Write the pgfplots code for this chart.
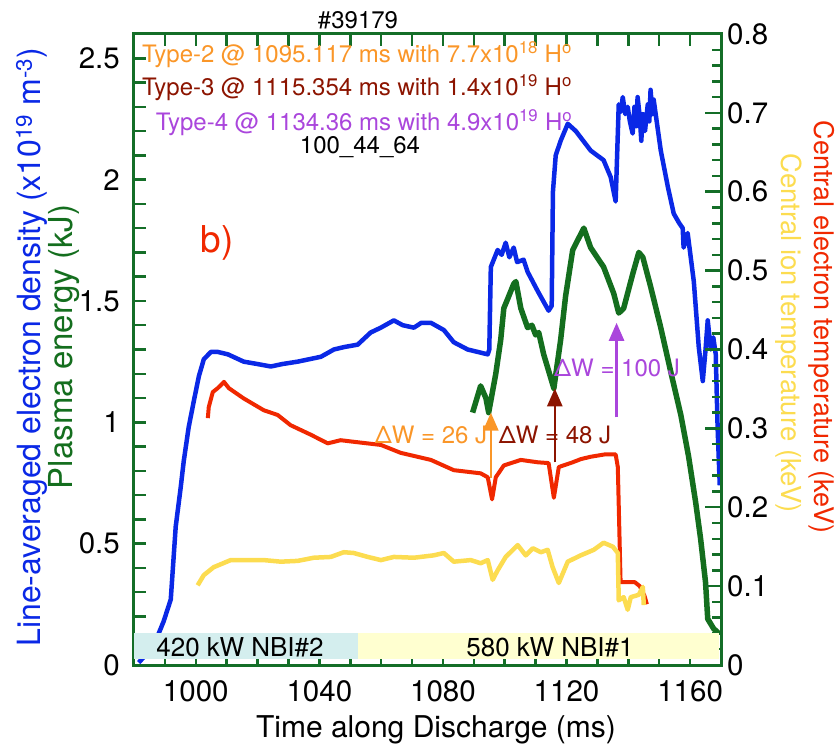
\documentclass[border=0pt]{standalone}
\usepackage{fontspec}
\setmainfont{TeX Gyre Heros}
\usepackage{pgfplots}
\pgfplotsset{compat=1.18}
\usetikzlibrary{arrows.meta}
\definecolor{fg}{RGB}{20,110,40}
\definecolor{cblue}{RGB}{10,40,230}
\definecolor{cgreen}{RGB}{20,110,30}
\definecolor{cred}{RGB}{240,40,0}
\definecolor{cyel}{RGB}{252,220,80}
\definecolor{corange}{RGB}{250,150,40}
\definecolor{cdred}{RGB}{140,20,0}
\definecolor{cpurple}{RGB}{170,70,220}
\definecolor{boxcyan}{RGB}{212,238,238}
\definecolor{boxyel}{RGB}{255,255,208}
\newcommand{\fs}[1]{\fontsize{#1}{#1}\selectfont}
\begin{document}
\begin{tikzpicture}
\path[use as bounding box] (-134pt,-87pt) rectangle (706pt,665pt);
\begin{axis}[
  at={(0pt,0pt)}, anchor=south west,
  scale only axis, width=587pt, height=631pt,
  xmin=980, xmax=1170, ymin=0, ymax=2.6,
  xtick={1000,1040,1080,1120,1160},
  minor xtick={980,990,...,1170},
  ytick={0,0.5,1,1.5,2,2.5},
  minor ytick={0,0.1,...,2.6},
  xtick pos=both, ytick pos=left,
  tick align=inside,
  major tick length=12pt, minor tick length=12pt,
  every tick/.style={fg, line width=2.5pt},
  every minor tick/.style={fg, line width=2.5pt},
  axis line style={fg, line width=3pt},
  /pgf/number format/assume math mode=true,
  /pgf/number format/1000 sep={},
  tick label style={font=\fs{29.5}, text=black},
  yticklabel style={inner sep=0pt, xshift=-14pt},
  xticklabel style={inner sep=0pt, yshift=-15pt},
]
\addplot[cblue, line width=4.5pt, line join=round] coordinates {
(981.5,0.01) (986,0.07) (988.0,0.13) (989.6,0.18) (991.9,0.27) (993.5,0.57) (995.1,0.73) (996.1,0.84) (997.7,0.98) (999.4,1.09) (1001.0,1.19) (1002.6,1.26) (1004.9,1.29) (1007.1,1.29) (1010.4,1.28) (1015.5,1.25) (1020,1.24) (1024.3,1.23) (1028,1.24) (1033.0,1.25) (1040.5,1.27) (1044.7,1.30) (1048,1.31) (1052.4,1.32) (1056.6,1.37) (1059.9,1.39) (1064.1,1.42) (1067,1.40) (1070.6,1.39) (1073,1.41) (1076.1,1.41) (1080.3,1.38) (1083.5,1.33) (1088.0,1.30) (1094.5,1.28) (1095.0,1.30) (1095.5,1.64) (1097.7,1.71) (1099.0,1.69) (1100.3,1.74) (1101.5,1.68) (1102.9,1.72) (1104.0,1.66) (1106.1,1.67) (1107.4,1.62) (1110.7,1.54) (1114.2,1.46) (1115.2,1.48) (1115.6,1.95) (1116.5,2.10) (1118.1,2.16) (1120.4,2.23) (1123.0,2.20) (1127.8,2.12) (1132.0,2.08) (1134.3,2.01) (1135.9,1.91) (1136.9,2.31) (1137.6,2.28) (1138.2,2.34) (1139.0,2.27) (1139.8,2.30) (1140.5,2.24) (1141.4,2.19) (1142.0,2.30) (1142.6,2.22) (1143.0,2.34) (1143.7,2.26) (1144.2,2.16) (1144.7,2.27) (1145.4,2.20) (1146.3,2.31) (1146.8,2.24) (1147.2,2.37) (1147.8,2.27) (1148.2,2.33) (1150.5,2.12) (1152.8,1.97) (1154.7,1.86) (1156.5,1.82) (1157.6,1.80) (1157.9,1.72) (1159.2,1.78) (1161.2,1.58) (1162.8,1.31) (1164.1,1.17) (1165.0,1.30) (1165.7,1.42) (1166.7,1.30) (1167.5,1.35) (1168.3,1.28) (1168.9,0.98) (1169.6,0.74)
};
\addplot[cgreen, line width=5.5pt, line join=round] coordinates {
(1089.6,1.04) (1092.2,1.15) (1093.9,1.10) (1094.8,1.04) (1097.1,1.20) (1098.7,1.34) (1099.7,1.47) (1101.0,1.51) (1102.9,1.57) (1103.6,1.58) (1105.2,1.47) (1107.4,1.39) (1108.8,1.40) (1110.0,1.36) (1111.0,1.37) (1112.6,1.28) (1115.9,1.14) (1118.1,1.34) (1119.7,1.52) (1122.0,1.71) (1125.6,1.80) (1127.8,1.72) (1132.0,1.64) (1135.3,1.53) (1136.9,1.45) (1138.5,1.47) (1141.4,1.61) (1143.4,1.70) (1144.7,1.68) (1147.2,1.56) (1150.5,1.39) (1153.7,1.21) (1157.0,1.03) (1159.5,0.86) (1161.8,0.67) (1163.4,0.52) (1165.0,0.34) (1165.7,0.19) (1167.6,0.15) (1169.3,0.13)
};
\addplot[corange, line width=2.5pt, -{Triangle[width=15pt,length=18pt]}] coordinates {(1095.5,0.77) (1095.5,1.04)};
\addplot[cdred, line width=2.5pt, -{Triangle[width=15pt,length=18pt]}] coordinates {(1116.2,0.835) (1116.2,1.14)};
\addplot[cpurple, line width=2.5pt, -{Triangle[width=15pt,length=18pt]}] coordinates {(1136.2,1.02) (1136.2,1.41)};
\end{axis}
\begin{axis}[
  at={(0pt,0pt)}, anchor=south west,
  scale only axis, width=587pt, height=631pt,
  xmin=980, xmax=1170, ymin=0, ymax=0.8,
  axis x line=none, axis y line*=right,
  ytick={0,0.1,0.2,0.3,0.4,0.5,0.6,0.7,0.8},
  minor y tick num=4,
  tick align=inside,
  major tick length=16pt, minor tick length=9pt,
  every tick/.style={fg, line width=2.5pt},
  every minor tick/.style={fg, line width=2.5pt},
  axis line style={fg, line width=3pt},
  /pgf/number format/assume math mode=true,
  tick label style={font=\fs{29.5}, text=black},
  yticklabel style={inner sep=0pt, anchor=west, xshift=6pt},
]
\addplot[cred, line width=4pt, line join=round] coordinates {
(1003.9,0.313) (1004.2,0.327) (1005.5,0.346) (1007.1,0.351) (1008.7,0.357) (1009.1,0.359) (1010.7,0.351) (1015.5,0.338) (1022.0,0.323) (1026.5,0.317) (1030.7,0.304) (1037.2,0.292) (1042.7,0.281) (1046.9,0.285) (1051.1,0.283) (1059.9,0.279) (1066.3,0.269) (1076.1,0.260) (1083.5,0.247) (1092.2,0.243) (1094.5,0.238) (1095.9,0.210) (1097.1,0.238) (1099.7,0.253) (1105.2,0.260) (1110.7,0.257) (1114.2,0.256) (1115.9,0.212) (1117.5,0.251) (1122.0,0.257) (1124.6,0.261) (1127.8,0.264) (1132.4,0.267) (1135.9,0.267) (1136.6,0.251) (1137.5,0.105) (1138.2,0.105) (1142.1,0.105) (1143.7,0.100) (1145.3,0.087) (1146.0,0.077)
};
\addplot[cyel, line width=4.5pt, line join=round] coordinates {
(1000.6,0.101) (1002.6,0.114) (1005.8,0.124) (1011.3,0.133) (1016.8,0.133) (1022.0,0.133) (1027.5,0.131) (1033.0,0.132) (1038.2,0.136) (1043.7,0.137) (1047.9,0.143) (1051.1,0.142) (1055.7,0.137) (1059.9,0.133) (1064.1,0.137) (1070.6,0.136) (1077.0,0.139) (1080.3,0.142) (1083.5,0.131) (1089.0,0.133) (1092.2,0.129) (1094.5,0.133) (1096.1,0.108) (1097.7,0.120) (1100.3,0.137) (1104.2,0.152) (1106.8,0.139) (1109.1,0.148) (1111.7,0.143) (1113.9,0.146) (1115.5,0.124) (1117.5,0.104) (1120.4,0.131) (1124.6,0.139) (1128.8,0.146) (1132.0,0.155) (1135.0,0.150) (1136.6,0.142) (1136.9,0.082) (1138.5,0.086) (1139.8,0.070) (1140.8,0.086) (1143.4,0.089) (1144.7,0.099) (1145.0,0.076)
};
\fill[boxcyan] (axis cs:980,0.0077) rectangle (axis cs:1052.4,0.0406);
\fill[boxyel] (axis cs:1052.4,0.0077) rectangle (axis cs:1169.3,0.0406);
\end{axis}
% texts
\node[font=\fs{24}] at (224pt,645pt) {\#39179};
\node[font=\fs{24}, text=corange] at (223pt,610pt) {Type-2 @ 1095.117 ms with 7.7x10\textsuperscript{18} H\textsuperscript{o}};
\node[font=\fs{24}, text=cdred] at (223pt,577pt) {Type-3 @ 1115.354 ms with 1.4x10\textsuperscript{19} H\textsuperscript{o}};
\node[font=\fs{24}, text=cpurple] at (230pt,542pt) {Type-4 @ 1134.36 ms with 4.9x10\textsuperscript{19} H\textsuperscript{o}};
\node[font=\fs{24}] at (226pt,518pt) {100\_44\_64};
\node[font=\fs{37}, text=cred] at (83pt,422pt) {b)};
\node[font=\fs{24}, text=corange] at (297pt,230pt) {ΔW = 26 J};
\node[font=\fs{24}, text=cdred] at (421pt,230pt) {ΔW = 48 J};
\node[font=\fs{24}, text=cpurple] at (483pt,297pt) {ΔW = 100 J};
\node[font=\fs{26}] at (106pt,18pt) {420 kW NBI\#2};
\node[font=\fs{26}] at (416pt,18pt) {580 kW NBI\#1};
\node[font=\fs{30}] at (302pt,-65pt) {Time along Discharge (ms)};
\node[font=\fs{32}, text=cblue, rotate=90] at (-102pt,318pt) {Line-averaged electron density (x10\textsuperscript{19} m\textsuperscript{-3})};
\node[font=\fs{33}, text=cgreen, rotate=90] at (-70pt,318pt) {Plasma energy (kJ)};
\node[font=\fs{27}, text=cred, rotate=-90] at (688pt,338pt) {Central electron temperature (keV)};
\node[font=\fs{27.5}, text=cyel, rotate=-90] at (655pt,332pt) {Central ion temperature (keV)};
\end{tikzpicture}
\end{document}
